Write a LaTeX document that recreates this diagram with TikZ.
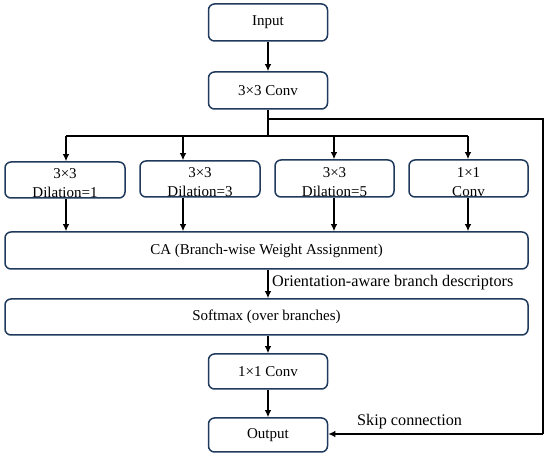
\documentclass[tikz,border=0pt]{standalone}
\usepackage{fontspec}
\setmainfont{Liberation Serif}
\usetikzlibrary{arrows.meta}
\definecolor{boxc}{HTML}{1F3A5C}
\begin{document}
\begin{tikzpicture}[x=1pt,y=-1pt,
  blk/.style={draw=boxc,line width=1.5pt,rounded corners=6pt,fill=white,
    inner sep=1pt,align=center,font=\fontsize{15}{19}\selectfont},
  txt/.style={inner sep=0pt,align=center,font=\fontsize{15}{19}\selectfont},
  conn/.style={line width=1.6pt,-{Latex[length=7pt,width=6.5pt]}},
  wire/.style={line width=1.6pt},
  lbl/.style={font=\fontsize{16.2}{19}\selectfont,inner sep=0pt,anchor=west}]
\useasboundingbox (0,0) rectangle (550,457);
\node[blk,minimum width=119pt,minimum height=37pt] (in) at (268,22.5) {Input};
\node[blk,minimum width=119pt,minimum height=37pt] (c3) at (268,90.5) {3×3 Conv};
\node[blk,minimum width=120pt,minimum height=36pt] (b1) at (65,180) {};
\node[blk,minimum width=120pt,minimum height=36pt] (b2) at (200,179) {};
\node[blk,minimum width=119pt,minimum height=37pt] (b3) at (334.5,178.5) {};
\node[blk,minimum width=119pt,minimum height=37pt] (b4) at (468.5,178.5) {};
\node[blk,minimum width=523pt,minimum height=37pt] (ca) at (266.5,250.5) {CA (Branch-wise Weight Assignment)};
\node[blk,minimum width=523pt,minimum height=36pt] (sm) at (266.5,317) {Softmax (over branches)};
\node[blk,minimum width=119pt,minimum height=35pt] (c1) at (268,371.5) {1×1 Conv};
\node[blk,minimum width=119pt,minimum height=34pt] (out) at (268,435) {Output};
% connectors
\draw[conn] (in) -- (c3);
\coordinate (j1) at (268,119);
\coordinate (j2) at (268,136);
\coordinate (x1) at (66,136);
\coordinate (x2) at (183,136);
\coordinate (x3) at (334,136);
\coordinate (x4) at (468,136);
\coordinate (s1) at (543,119);
\coordinate (s2) at (543,434);
\draw[wire] (c3.south) -- (j2);
\draw[wire] (x1) -- (x4);
\draw[conn] (x1) -- (x1 |- b1.north);
\draw[conn] (x2) -- (x2 |- b2.north);
\draw[conn] (x3) -- (x3 |- b3.north);
\draw[conn] (x4) -- (x4 |- b4.north);
\draw[conn] (x1 |- b1.south) -- (x1 |- ca.north);
\draw[conn] (x2 |- b2.south) -- (x2 |- ca.north);
\draw[conn] (x3 |- b3.south) -- (x3 |- ca.north);
\draw[conn] (x4 |- b4.south) -- (x4 |- ca.north);
\draw[conn] (ca.south -| c3) -- (sm.north -| c3);
\draw[conn] (sm.south -| c1) -- (c1);
\draw[conn] (c1) -- (out);
\draw[wire] (j1) -- (s1) -- (s2);
\draw[conn] (s2) -- (s2 -| out.east);
% branch texts
\node[txt] (t1) at ([yshift=-3.5pt]b1.center) {3×3\\Dilation=1};
\node[txt] (t2) at ([yshift=-3.5pt]b2.center) {3×3\\Dilation=3};
\node[txt] (t3) at ([yshift=-3.5pt]b3.center) {3×3\\Dilation=5};
\node[txt] (t4) at ([yshift=-3.5pt]b4.center) {1×1\\Conv};
\node[lbl] (l1) at (272,283) {Orientation-aware branch descriptors};
\node[lbl] (l2) at (357,422) {Skip connection};
\end{tikzpicture}
\end{document}
